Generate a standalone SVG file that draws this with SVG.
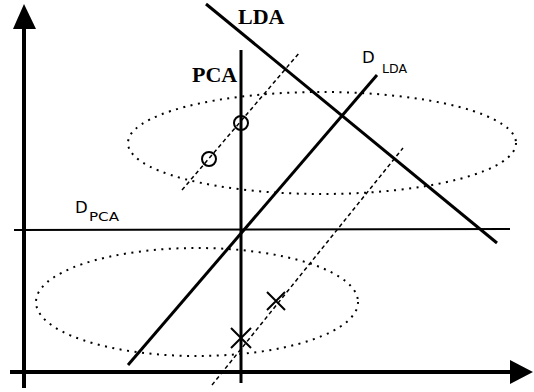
<svg xmlns="http://www.w3.org/2000/svg" width="534" height="392" viewBox="0 0 534 392">
<style>
.thick{stroke:#000;stroke-width:3;fill:none}
.thin{stroke:#000;stroke-width:2;fill:none}
.dash{stroke:#000;stroke-width:1.5;stroke-dasharray:4 3;fill:none}
.dot{stroke:#000;stroke-width:2;stroke-dasharray:2 5.5;fill:none}
.lab{font-family:"Liberation Serif",serif;font-weight:bold;font-size:22px}
.d{font-family:"DejaVu Sans","Liberation Sans",sans-serif;font-size:16.5px}
.sub{font-family:"DejaVu Sans","Liberation Sans",sans-serif;font-size:11.5px}
</style>
<rect width="534" height="392" fill="#fff"/>
<g id="axes">
<line class="thick" x1="24" y1="388" x2="24" y2="26" style="stroke-width:4"/>
<polygon points="24,4 13,29 36,29" fill="#000"/>
<line class="thick" x1="10" y1="372" x2="512" y2="372" style="stroke-width:4"/>
<polygon points="533,372 510,360 510,384" fill="#000"/>
</g>
<g id="ellipses">
<ellipse class="dot" cx="322" cy="143" rx="194" ry="51"/>
<ellipse class="dot" cx="197" cy="302" rx="161" ry="54"/>
</g>
<g id="connectors">
<line class="thick" x1="241" y1="50" x2="241" y2="383"/>
<line class="thin" x1="14" y1="230" x2="510" y2="229"/>
<line class="thick" x1="206" y1="4" x2="497" y2="243"/>
<line class="thick" x1="128" y1="365" x2="377" y2="75"/>
<line class="dash" x1="182" y1="190" x2="300" y2="52"/>
<line class="dash" x1="212" y1="385" x2="403" y2="148"/>
</g>
<g id="points">
<circle class="thin" cx="241" cy="123" r="7"/>
<circle class="thin" cx="209" cy="159" r="7"/>
<path class="thin" d="M231,328 L251,348 M251,328 L231,348"/>
<path class="thin" d="M267,292 L285,310 M285,292 L267,310"/>
</g>
<g id="labels">
<text class="lab" x="238" y="24">LDA</text>
<text class="lab" x="192" y="82">PCA</text>
<text class="d" x="75" y="213">D</text>
<text class="sub" x="89" y="221" textLength="30" lengthAdjust="spacingAndGlyphs">PCA</text>
<text class="d" x="362" y="63">D</text>
<text class="sub" x="382" y="73" textLength="25" lengthAdjust="spacingAndGlyphs">LDA</text>
</g>
</svg>
